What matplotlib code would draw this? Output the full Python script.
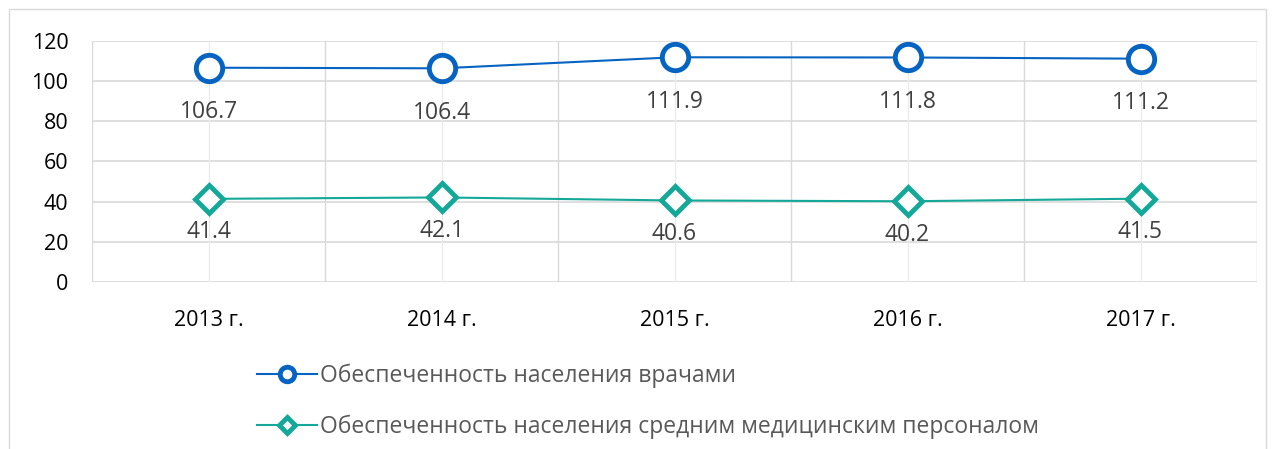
import matplotlib.pyplot as plt
from matplotlib.patches import Rectangle

# Data
years = ['2013 г.', '2014 г.', '2015 г.', '2016 г.', '2017 г.']
doctors = [106.7, 106.4, 111.9, 111.8, 111.2]
nurses = [41.4, 42.1, 40.6, 40.2, 41.5]
label_doctors = 'Обеспеченность населения врачами'
label_nurses = 'Обеспеченность населения средним медицинским персоналом'

blue = '#0563C1'
teal = '#14A898'

plt.rcParams['font.family'] = ['Open Sans', 'DejaVu Sans']

W, H = 1274, 449
fig = plt.figure(figsize=(W / 100, H / 100), dpi=100)
ax = fig.add_axes([92 / W, 1 - 282 / H, (1257 - 92) / W, (282 - 41) / H])

x = list(range(len(years)))
ax.plot(x, doctors, color=blue, lw=1.5, marker='o', ms=19, mfc='white',
        mec=blue, mew=3.5, label=label_doctors, zorder=3)
ax.plot(x, nurses, color=teal, lw=1.5, marker='D', ms=14, mfc='white',
        mec=teal, mew=3.5, label=label_nurses, zorder=3)

for xi, v in zip(x, doctors):
    ax.annotate(f'{v:.1f}', (xi, v), xytext=(0, -32), textcoords='offset points',
                ha='center', va='center', fontsize=16.5, color='#404040')
for xi, v in zip(x, nurses):
    ax.annotate(f'{v:.1f}', (xi, v), xytext=(0, -24), textcoords='offset points',
                ha='center', va='center', fontsize=16.5, color='#404040')

ax.set_xlim(-0.5, len(years) - 0.5)
ax.set_ylim(0, 120)
ax.set_yticks(range(0, 121, 20))
ax.set_xticks(x)
ax.set_xticklabels(years)

# gridlines: horizontal, category centres and boundaries
for yv in range(0, 121, 20):
    ax.axhline(yv, color='#D9D9D9', lw=1.2, zorder=0)
for b in [i - 0.5 for i in range(len(years) + 1)]:
    ax.axvline(b, color='#D9D9D9', lw=1.0, zorder=0)
for xi in x:
    ax.axvline(xi, color='#EBEBEB', lw=1.0, zorder=0)

for s in ax.spines.values():
    s.set_visible(False)
ax.tick_params(axis='both', length=0, labelsize=15.5, colors='black')
ax.tick_params(axis='y', pad=17)
ax.tick_params(axis='x', pad=20)

fig.legend(loc='upper left', bbox_to_anchor=(257 / W, 1 - 364 / H),
           frameon=False, fontsize=16.5, labelcolor='#595959',
           markerscale=0.55, handlelength=2.6, handletextpad=0.15,
           labelspacing=1.15, borderaxespad=0, borderpad=0)

# chart frame
fig.patches.append(Rectangle((9 / W, -0.01), (1266 - 9) / W, 1 - 9 / H + 0.01,
                             transform=fig.transFigure, fill=False,
                             edgecolor='#D9D9D9', lw=1.0))

fig.savefig('out.png', dpi=100)
